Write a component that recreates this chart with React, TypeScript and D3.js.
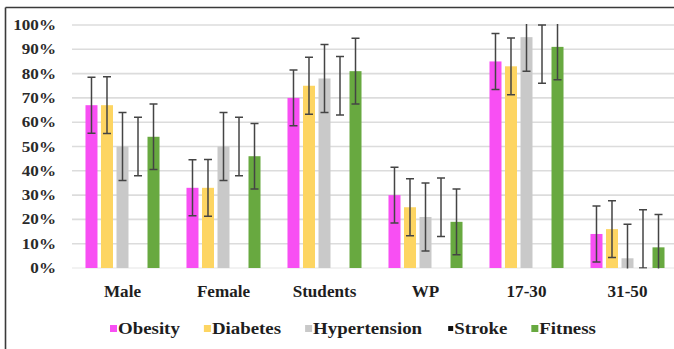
import React from "react";
import * as d3 from "d3";

// Groups along the category axis
const categories = ["Male", "Female", "Students", "WP", "17-30", "31-50"];

// Series (percent values) and their error amounts
const seriesNames = ["Obesity", "Diabetes", "Hypertension", "Stroke", "Fitness"];
const obesity = [67, 33, 70, 30, 85, 14];
const diabetes = [67, 33, 75, 25, 83, 16];
const hypertension = [50, 50, 78, 21, 95, 4];
const stroke = [50, 50, 75, 25, 88, 12];
const fitness = [54, 46, 81, 19, 91, 8.5];

const obesityErr = [11.5, 11.5, 11.5, 11.5, 11.5, 11.5];
const diabetesErr = [11.7, 11.7, 11.7, 11.7, 11.7, 11.7];
const hypertensionErr = [14, 14, 14, 14, 14, 14];
const strokeErr = [12, 12, 12, 12, 12, 12];
const fitnessErr = [13.5, 13.5, 13.5, 13.5, 13.5, 13.5];

const yTicks = [0, 10, 20, 30, 40, 50, 60, 70, 80, 90, 100];

const W = 674;
const H = 349;
const plot = { left: 72, top: 25, bottom: 268, band: 101 };

const colors: Record<string, string> = {
  Obesity: "#F84FF3",
  Diabetes: "#FDD562",
  Hypertension: "#C9C9C9",
  Stroke: "none",
  Fitness: "#68A940",
};
const legendColors: Record<string, string> = { ...colors, Stroke: "#111" };

const values: Record<string, number[]> = {
  Obesity: obesity,
  Diabetes: diabetes,
  Hypertension: hypertension,
  Stroke: stroke,
  Fitness: fitness,
};
const errors: Record<string, number[]> = {
  Obesity: obesityErr,
  Diabetes: diabetesErr,
  Hypertension: hypertensionErr,
  Stroke: strokeErr,
  Fitness: fitnessErr,
};

const FONT = "Liberation Serif, DejaVu Serif, Times New Roman, serif";

function measure(text: string, size: number): number {
  const c = document.createElement("canvas").getContext("2d");
  if (!c) return text.length * size * 0.5;
  c.font = `bold ${size}px "Liberation Serif", "DejaVu Serif", serif`;
  return c.measureText(text).width;
}

export default function App() {
  const x0 = d3
    .scaleBand<string>()
    .domain(categories)
    .range([plot.left, plot.left + plot.band * categories.length])
    .padding(0);
  const x1 = d3
    .scaleBand<string>()
    .domain(seriesNames)
    .range([0, x0.bandwidth()])
    .paddingInner(0.226)
    .paddingOuter(0.87);
  const y = d3.scaleLinear().domain([0, 100]).range([plot.bottom, plot.top]);

  const legendSize = 16;
  const legendScale = 1.18;
  let lx = 110;
  const legendItems = seriesNames.map((name) => {
    const item = { name, x: lx };
    lx += 8 + measure(name, legendSize) * legendScale + 24;
    return item;
  });

  const textStyle = { fontFamily: FONT, fontWeight: 700 };

  return (
    <svg
      width={W}
      height={H}
      style={{ position: "absolute", left: 0, top: 0, background: "#fff" }}
    >
      <defs>
        <clipPath id="plotClip">
          <rect x={plot.left} y={plot.top - 1} width={W - plot.left} height={plot.bottom - plot.top + 1.5} />
        </clipPath>
      </defs>

      {/* frame */}
      <line x1={5.5} x2={W} y1={7.5} y2={7.5} stroke="#3a3a3a" strokeWidth={1.6} />
      <line x1={5.5} x2={5.5} y1={7.5} y2={H} stroke="#3a3a3a" strokeWidth={1.6} />

      {/* gridlines */}
      {yTicks.map((t) => (
        <line
          key={t}
          x1={plot.left}
          x2={W}
          y1={y(t)}
          y2={y(t)}
          stroke={t === 0 ? "#eeeeee" : "#dcdcdc"}
          strokeWidth={1.6}
        />
      ))}

      {/* y tick labels */}
      {yTicks.map((t) => (
        <text
          key={t}
          transform={`translate(56,${y(t) + 5}) scale(1.18,1)`}
          textAnchor="end"
          fontSize={14.5}
          style={textStyle}
          fill="#2a2a2a"
        >
          {t}%
        </text>
      ))}

      {/* bars */}
      {categories.map((c, i) => (
        <g key={c} transform={`translate(${x0(c)},0)`}>
          {seriesNames.map((s) => (
            <rect
              key={s}
              x={x1(s)}
              y={y(values[s][i])}
              width={x1.bandwidth()}
              height={y(0) - y(values[s][i])}
              fill={colors[s]}
            />
          ))}
        </g>
      ))}

      {/* error bars, clipped to the plot area */}
      <g clipPath="url(#plotClip)" stroke="#444" strokeWidth={1.5}>
        {categories.map((c, i) =>
          seriesNames.map((s) => {
            const cx = (x0(c) ?? 0) + (x1(s) ?? 0) + x1.bandwidth() / 2;
            const v = values[s][i];
            const e = errors[s][i];
            const yt = y(v + e);
            const yb = y(v - e);
            return (
              <g key={c + s}>
                <line x1={cx} x2={cx} y1={yt} y2={yb} />
                <line x1={cx - 4} x2={cx + 4} y1={yt} y2={yt} />
                <line x1={cx - 4} x2={cx + 4} y1={yb} y2={yb} />
              </g>
            );
          })
        )}
      </g>

      {/* category labels */}
      {categories.map((c) => (
        <text
          key={c}
          transform={`translate(${(x0(c) ?? 0) + x0.bandwidth() / 2},297) scale(1.07,1)`}
          textAnchor="middle"
          fontSize={16}
          style={textStyle}
          fill="#1e1e1e"
        >
          {c}
        </text>
      ))}

      {/* legend */}
      {legendItems.map((it) => (
        <g key={it.name}>
          {it.name === "Stroke" ? (
            <rect x={it.x + 2} y={326} width={5} height={5} fill={legendColors[it.name]} />
          ) : (
            <rect x={it.x} y={325} width={7} height={7} fill={legendColors[it.name]} />
          )}
          <text
            transform={`translate(${it.x + 8},334) scale(${legendScale},1)`}
            fontSize={legendSize}
            style={textStyle}
            fill="#1e1e1e"
          >
            {it.name}
          </text>
        </g>
      ))}
    </svg>
  );
}
